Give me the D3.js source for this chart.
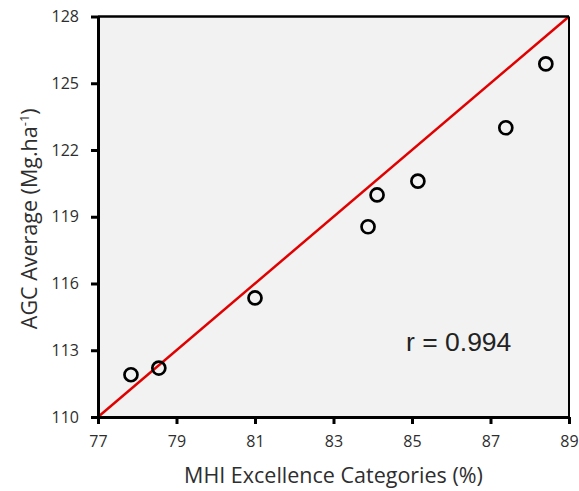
<!DOCTYPE html>
<html>
<head>
<meta charset="utf-8">
<script src="https://cdn.jsdelivr.net/npm/d3@7"></script>
<style>
  html, body { margin: 0; padding: 0; background: #ffffff; }
  svg { display: block; }
</style>
</head>
<body>
<div id="chart"></div>
<script>
// ---- data ----
const mhiValues = [77.84, 78.55, 81.0, 83.88, 84.11, 85.15, 87.39, 88.41];
const agcValues = [111.9, 112.2, 115.35, 118.55, 119.98, 120.6, 123.0, 125.87];
const fitX = [77, 89];
const fitY = [110, 128];
const xTicks = [77, 79, 81, 83, 85, 87, 89];
const yTicks = [110, 113, 116, 119, 122, 125, 128];
const xTitle = "MHI Excellence Categories (%)";
const yTitleMain = "AGC Average (Mg.ha";
const yTitleSup = "-1";
const rLabel = "r = 0.994";

const W = 579, H = 491;
const margin = { left: 98, right: 10, top: 16.5, bottom: 74 };
const svg = d3.select("#chart").append("svg").attr("width", W).attr("height", H);

const x = d3.scaleLinear().domain([77, 89]).range([margin.left, W - margin.right]);
const y = d3.scaleLinear().domain([110, 128]).range([H - margin.bottom, margin.top]);

const font = "'Open Sans', sans-serif";
const textColor = "#2e2e2e";

// plot background
svg.append("rect")
  .attr("x", x(77)).attr("y", y(128))
  .attr("width", x(89) - x(77)).attr("height", y(110) - y(128))
  .attr("fill", "#f2f2f2");

// fit line
svg.append("line")
  .attr("x1", x(fitX[0])).attr("y1", y(fitY[0]))
  .attr("x2", x(fitX[1])).attr("y2", y(fitY[1]))
  .attr("stroke", "#e00000").attr("stroke-width", 2.5);

// frame: top & right
svg.append("line").attr("x1", x(77)).attr("x2", x(89)).attr("y1", y(128)).attr("y2", y(128))
  .attr("stroke", "#000").attr("stroke-width", 2.5);
svg.append("line").attr("x1", x(89)).attr("x2", x(89)).attr("y1", y(128)).attr("y2", y(110))
  .attr("stroke", "#000").attr("stroke-width", 2);

// axes
const xAxis = svg.append("g").attr("transform", `translate(0,${y(110)})`)
  .call(d3.axisBottom(x).tickValues(xTicks).tickSize(7).tickSizeOuter(0).tickPadding(12));
const yAxis = svg.append("g").attr("transform", `translate(${x(77)},0)`)
  .call(d3.axisLeft(y).tickValues(yTicks).tickSize(7).tickSizeOuter(0).tickPadding(12));
[xAxis, yAxis].forEach(g => {
  g.select(".domain").attr("stroke", "#000").attr("stroke-width", 3);
  g.selectAll(".tick line").attr("stroke", "#000").attr("stroke-width", 3);
  g.selectAll(".tick text").attr("fill", textColor).attr("font-family", font).attr("font-size", 16);
});

// points
svg.append("g").selectAll("circle")
  .data(mhiValues.map((v, i) => [v, agcValues[i]]))
  .join("circle")
  .attr("cx", d => x(d[0])).attr("cy", d => y(d[1]))
  .attr("r", 6.5)
  .attr("fill", "none").attr("stroke", "#000").attr("stroke-width", 2.7);

// r label
svg.append("text")
  .attr("x", 406).attr("y", 351)
  .attr("font-family", "'Liberation Sans', Arial, sans-serif")
  .attr("font-size", 26.5).attr("fill", "#222")
  .text(rLabel);

// x title
svg.append("text")
  .attr("x", (x(77) + x(89)) / 2).attr("y", 483)
  .attr("text-anchor", "middle")
  .attr("font-family", font).attr("font-size", 21.5).attr("fill", textColor)
  .text(xTitle);

// y title
const yt = svg.append("text")
  .attr("transform", `translate(37,${(y(110) + y(128)) / 2 + 2}) rotate(-90)`)
  .attr("text-anchor", "middle")
  .attr("font-family", font).attr("font-size", 21.5).attr("fill", textColor);
yt.append("tspan").text(yTitleMain);
yt.append("tspan").attr("dy", -8).attr("font-size", 13).text(yTitleSup);
yt.append("tspan").attr("dy", 8).text(")");
</script>
</body>
</html>
